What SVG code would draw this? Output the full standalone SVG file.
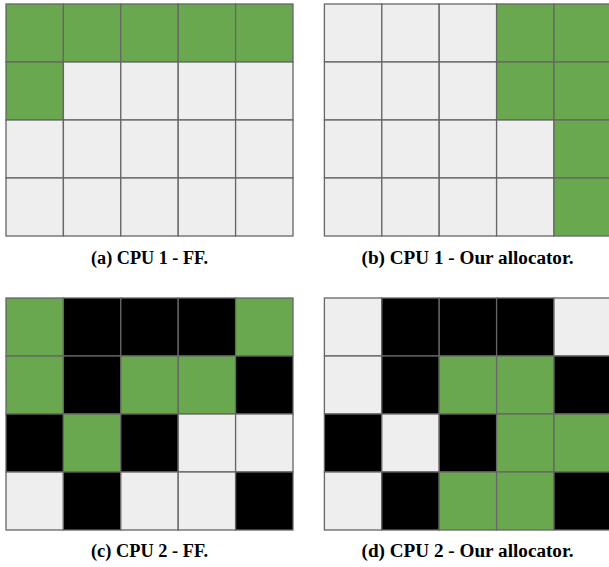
<svg xmlns="http://www.w3.org/2000/svg" width="609" height="567" viewBox="0 0 609 567">
  <style>
    .g, .w, .k { stroke: #666666; stroke-width: 1.3; }
    .g { fill: #6aa84f; }
    .w { fill: #eeeeee; }
    .k { fill: #000000; }
    .cap { font-family: "Liberation Serif", "DejaVu Serif", serif; font-weight: bold; font-size: 18.5px; fill: #000000; text-anchor: middle; }
  </style>
  <rect x="0" y="0" width="609" height="567" fill="#ffffff"/>

  <!-- Panel (a): CPU 1, first fit -->
  <g id="panel-a">
    <rect class="g" x="6" y="4" width="57.4" height="58"/>
    <rect class="g" x="63.4" y="4" width="57.4" height="58"/>
    <rect class="g" x="120.8" y="4" width="57.4" height="58"/>
    <rect class="g" x="178.2" y="4" width="57.4" height="58"/>
    <rect class="g" x="235.6" y="4" width="57.4" height="58"/>
    <rect class="g" x="6" y="62" width="57.4" height="58"/>
    <rect class="w" x="63.4" y="62" width="57.4" height="58"/>
    <rect class="w" x="120.8" y="62" width="57.4" height="58"/>
    <rect class="w" x="178.2" y="62" width="57.4" height="58"/>
    <rect class="w" x="235.6" y="62" width="57.4" height="58"/>
    <rect class="w" x="6" y="120" width="57.4" height="58"/>
    <rect class="w" x="63.4" y="120" width="57.4" height="58"/>
    <rect class="w" x="120.8" y="120" width="57.4" height="58"/>
    <rect class="w" x="178.2" y="120" width="57.4" height="58"/>
    <rect class="w" x="235.6" y="120" width="57.4" height="58"/>
    <rect class="w" x="6" y="178" width="57.4" height="58"/>
    <rect class="w" x="63.4" y="178" width="57.4" height="58"/>
    <rect class="w" x="120.8" y="178" width="57.4" height="58"/>
    <rect class="w" x="178.2" y="178" width="57.4" height="58"/>
    <rect class="w" x="235.6" y="178" width="57.4" height="58"/>
    <text class="cap" x="149.5" y="263.5" textLength="117" lengthAdjust="spacingAndGlyphs">(a) CPU 1 - FF.</text>
  </g>

  <!-- Panel (b): CPU 1, our allocator -->
  <g id="panel-b">
    <rect class="w" x="324.4" y="4" width="57.4" height="58"/>
    <rect class="w" x="381.8" y="4" width="57.4" height="58"/>
    <rect class="w" x="439.2" y="4" width="57.4" height="58"/>
    <rect class="g" x="496.6" y="4" width="57.4" height="58"/>
    <rect class="g" x="554" y="4" width="57.4" height="58"/>
    <rect class="w" x="324.4" y="62" width="57.4" height="58"/>
    <rect class="w" x="381.8" y="62" width="57.4" height="58"/>
    <rect class="w" x="439.2" y="62" width="57.4" height="58"/>
    <rect class="g" x="496.6" y="62" width="57.4" height="58"/>
    <rect class="g" x="554" y="62" width="57.4" height="58"/>
    <rect class="w" x="324.4" y="120" width="57.4" height="58"/>
    <rect class="w" x="381.8" y="120" width="57.4" height="58"/>
    <rect class="w" x="439.2" y="120" width="57.4" height="58"/>
    <rect class="w" x="496.6" y="120" width="57.4" height="58"/>
    <rect class="g" x="554" y="120" width="57.4" height="58"/>
    <rect class="w" x="324.4" y="178" width="57.4" height="58"/>
    <rect class="w" x="381.8" y="178" width="57.4" height="58"/>
    <rect class="w" x="439.2" y="178" width="57.4" height="58"/>
    <rect class="w" x="496.6" y="178" width="57.4" height="58"/>
    <rect class="g" x="554" y="178" width="57.4" height="58"/>
    <text class="cap" x="467.5" y="263.5" textLength="212" lengthAdjust="spacingAndGlyphs">(b) CPU 1 - Our allocator.</text>
  </g>

  <!-- Panel (c): CPU 2, first fit -->
  <g id="panel-c">
    <rect class="g" x="6" y="298" width="57.4" height="58"/>
    <rect class="k" x="63.4" y="298" width="57.4" height="58"/>
    <rect class="k" x="120.8" y="298" width="57.4" height="58"/>
    <rect class="k" x="178.2" y="298" width="57.4" height="58"/>
    <rect class="g" x="235.6" y="298" width="57.4" height="58"/>
    <rect class="g" x="6" y="356" width="57.4" height="58"/>
    <rect class="k" x="63.4" y="356" width="57.4" height="58"/>
    <rect class="g" x="120.8" y="356" width="57.4" height="58"/>
    <rect class="g" x="178.2" y="356" width="57.4" height="58"/>
    <rect class="k" x="235.6" y="356" width="57.4" height="58"/>
    <rect class="k" x="6" y="414" width="57.4" height="58"/>
    <rect class="g" x="63.4" y="414" width="57.4" height="58"/>
    <rect class="k" x="120.8" y="414" width="57.4" height="58"/>
    <rect class="w" x="178.2" y="414" width="57.4" height="58"/>
    <rect class="w" x="235.6" y="414" width="57.4" height="58"/>
    <rect class="w" x="6" y="472" width="57.4" height="58"/>
    <rect class="k" x="63.4" y="472" width="57.4" height="58"/>
    <rect class="w" x="120.8" y="472" width="57.4" height="58"/>
    <rect class="w" x="178.2" y="472" width="57.4" height="58"/>
    <rect class="k" x="235.6" y="472" width="57.4" height="58"/>
    <text class="cap" x="149.5" y="557" textLength="117" lengthAdjust="spacingAndGlyphs">(c) CPU 2 - FF.</text>
  </g>

  <!-- Panel (d): CPU 2, our allocator -->
  <g id="panel-d">
    <rect class="w" x="324.4" y="298" width="57.4" height="58"/>
    <rect class="k" x="381.8" y="298" width="57.4" height="58"/>
    <rect class="k" x="439.2" y="298" width="57.4" height="58"/>
    <rect class="k" x="496.6" y="298" width="57.4" height="58"/>
    <rect class="w" x="554" y="298" width="57.4" height="58"/>
    <rect class="w" x="324.4" y="356" width="57.4" height="58"/>
    <rect class="k" x="381.8" y="356" width="57.4" height="58"/>
    <rect class="g" x="439.2" y="356" width="57.4" height="58"/>
    <rect class="g" x="496.6" y="356" width="57.4" height="58"/>
    <rect class="k" x="554" y="356" width="57.4" height="58"/>
    <rect class="k" x="324.4" y="414" width="57.4" height="58"/>
    <rect class="w" x="381.8" y="414" width="57.4" height="58"/>
    <rect class="k" x="439.2" y="414" width="57.4" height="58"/>
    <rect class="g" x="496.6" y="414" width="57.4" height="58"/>
    <rect class="g" x="554" y="414" width="57.4" height="58"/>
    <rect class="w" x="324.4" y="472" width="57.4" height="58"/>
    <rect class="k" x="381.8" y="472" width="57.4" height="58"/>
    <rect class="g" x="439.2" y="472" width="57.4" height="58"/>
    <rect class="g" x="496.6" y="472" width="57.4" height="58"/>
    <rect class="k" x="554" y="472" width="57.4" height="58"/>
    <text class="cap" x="467.5" y="557" textLength="212" lengthAdjust="spacingAndGlyphs">(d) CPU 2 - Our allocator.</text>
  </g>
</svg>
